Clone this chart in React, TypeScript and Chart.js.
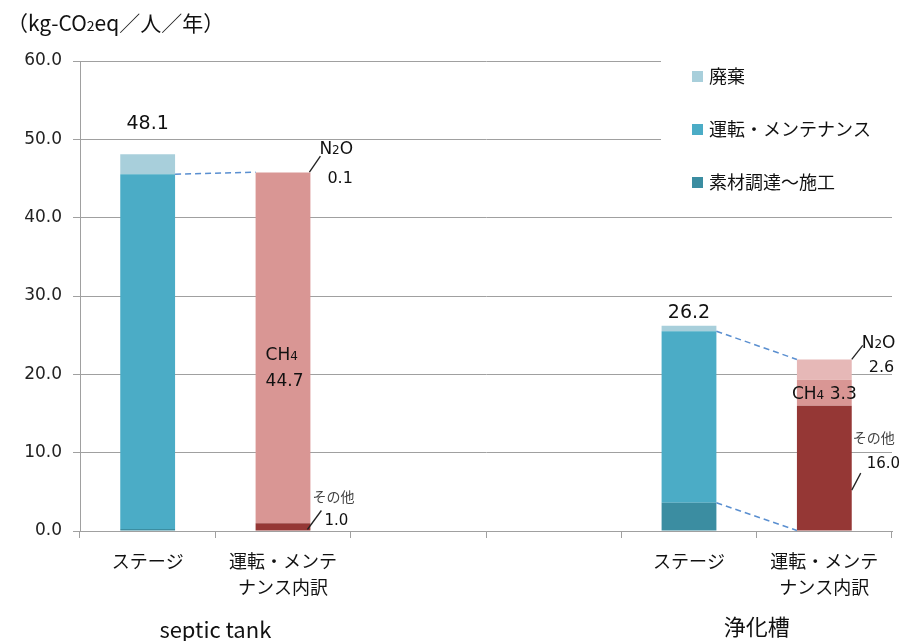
import React, { useEffect, useRef } from "react";
import { Chart, registerables } from "chart.js";

Chart.register(...registerables);

// ---- data ----
const categories = [["ステージ"], ["運転・メンテ", "ナンス内訳"], [""], [""], ["ステージ"], ["運転・メンテ", "ナンス内訳"]];
const groupLabels = ["septic tank", "浄化槽"];
const groupMembers = [[0, 1], [4, 5]];
const stageIndex = [0, 4];
const breakdownIndex = [1, 5];

const material = [0.25, null, null, null, 3.6, null];
const operation = [45.3, null, null, null, 21.9, null];
const disposal = [2.55, null, null, null, 0.7, null];
const otherGas = [null, 1.0, null, null, null, 16.0];
const ch4 = [null, 44.7, null, null, null, 3.3];
const n2o = [null, 0.1, null, null, null, 2.6];

const legendLabels = ["廃棄", "運転・メンテナンス", "素材調達～施工"];
const yMin = 0;
const yMax = 60;
const yStep = 10;

// ---- styles ----
const C_MATERIAL = "#3B8DA1";
const C_OPERATION = "#4BACC6";
const C_DISPOSAL = "#A8CFDB";
const C_OTHER = "#953735";
const C_CH4 = "#D99694";
const C_N2O = "#E6B8B7";
const GRID = "#A0A0A0";
const JP = '"Noto Sans CJK JP", "Noto Sans", sans-serif';
const NUM = '"DejaVu Sans", sans-serif';

type Part = [string, boolean];

function drawRich(ctx: CanvasRenderingContext2D, x: number, yCenter: number, parts: Part[], size: number, family: string, align: "left" | "center" | "right" = "left", color = "#111") {
  const widths = parts.map(([t, sub]) => {
    ctx.font = `${sub ? Math.round(size * 0.68) : size}px ${family}`;
    return ctx.measureText(t).width;
  });
  const total = widths.reduce((a, b) => a + b, 0);
  let cx = align === "center" ? x - total / 2 : align === "right" ? x - total : x;
  ctx.save();
  ctx.fillStyle = color;
  ctx.textAlign = "left";
  ctx.textBaseline = "alphabetic";
  const base = yCenter + size * 0.36;
  parts.forEach(([t, sub], i) => {
    ctx.font = `${sub ? Math.round(size * 0.68) : size}px ${family}`;
    ctx.fillText(t, cx, base);
    cx += widths[i];
  });
  ctx.restore();
}

function line(ctx: CanvasRenderingContext2D, x1: number, y1: number, x2: number, y2: number, color: string, width: number, dash: number[] = []) {
  ctx.save();
  ctx.strokeStyle = color;
  ctx.lineWidth = width;
  ctx.setLineDash(dash);
  ctx.beginPath();
  ctx.moveTo(x1, y1);
  ctx.lineTo(x2, y2);
  ctx.stroke();
  ctx.restore();
}

const decorations = {
  id: "decorations",
  afterDraw(chart: any) {
    const ctx: CanvasRenderingContext2D = chart.ctx;
    const xs = chart.scales.x;
    const el = (di: number, i: number) => chart.getDatasetMeta(di).data[i] as any;

    // axis title
    drawRich(ctx, 7, 23, [["（kg-CO", false], ["2", true], ["eq／人／年）", false]], 21, JP, "left", "#111");

    // group labels
    const groupY = [630, 627];
    groupLabels.forEach((g, k) => {
      const [a, b] = groupMembers[k];
      const cx = (xs.getPixelForValue(a) + xs.getPixelForValue(b)) / 2;
      ctx.save();
      ctx.font = `22px ${JP}`;
      ctx.fillStyle = "#111";
      ctx.textAlign = "center";
      ctx.textBaseline = "middle";
      ctx.fillText(g, cx, groupY[k]);
      ctx.restore();
    });

    // dashed connectors
    const blue = "#5A8FD0";
    const s0 = el(1, stageIndex[0]);
    const b0 = el(5, breakdownIndex[0]);
    line(ctx, s0.x + s0.width / 2, s0.y, b0.x - b0.width / 2, b0.y, blue, 1.5, [6, 4]);
    const s1 = el(1, stageIndex[1]);
    const b1 = el(5, breakdownIndex[1]);
    line(ctx, s1.x + s1.width / 2, s1.y, b1.x - b1.width / 2, b1.y, blue, 1.5, [6, 4]);
    const m1 = el(0, stageIndex[1]);
    const o1 = el(3, breakdownIndex[1]);
    line(ctx, m1.x + m1.width / 2, m1.y, o1.x - o1.width / 2, o1.base, blue, 1.5, [6, 4]);

    // totals above stage bars
    const totalOffsets = [30, 13];
    stageIndex.forEach((i, k) => {
      const total = (material[i] as number) + (operation[i] as number) + (disposal[i] as number);
      const top = el(2, i).y;
      ctx.save();
      ctx.font = `19px ${NUM}`;
      ctx.fillStyle = "#111";
      ctx.textAlign = "center";
      ctx.textBaseline = "middle";
      ctx.fillText(total.toFixed(1), el(2, i).x, top - totalOffsets[k]);
      ctx.restore();
    });

    // breakdown annotations: septic tank
    {
      const i = breakdownIndex[0];
      const nE = el(5, i), cE = el(4, i), oE = el(3, i);
      const right = nE.x + nE.width / 2;
      const left = nE.x - nE.width / 2;
      line(ctx, right - 1, nE.y, right + 10, nE.y - 16, "#222", 1.3);
      drawRich(ctx, right + 9, nE.y - 24, [["N", false], ["2", true], ["O", false]], 17, NUM);
      drawRich(ctx, right + 17, nE.y + 5, [[(n2o[i] as number).toFixed(1), false]], 16, NUM);
      const mid = (cE.y + cE.base) / 2;
      drawRich(ctx, left + 10, mid + 6, [["CH", false], ["4", true]], 17, NUM);
      drawRich(ctx, left + 10, mid + 32, [[(ch4[i] as number).toFixed(1), false]], 17, NUM);
      line(ctx, right - 3, oE.base - 1, right + 11, oE.base - 20, "#222", 1.3);
      drawRich(ctx, right + 2, oE.base - 34, [["その他", false]], 14, JP, "left", "#444");
      drawRich(ctx, right + 14, oE.base - 11, [[(otherGas[i] as number).toFixed(1), false]], 15, NUM);
    }
    // breakdown annotations: 浄化槽
    {
      const i = breakdownIndex[1];
      const nE = el(5, i), cE = el(4, i), oE = el(3, i);
      const right = nE.x + nE.width / 2;
      line(ctx, right, nE.y, right + 11, nE.y - 14, "#222", 1.3);
      drawRich(ctx, right + 10, nE.y - 18, [["N", false], ["2", true], ["O", false]], 17, NUM);
      drawRich(ctx, right + 17, nE.y + 7, [[(n2o[i] as number).toFixed(1), false]], 16, NUM);
      const mid = (cE.y + cE.base) / 2;
      drawRich(ctx, nE.x, mid, [["CH", false], ["4", true], [" " + (ch4[i] as number).toFixed(1), false]], 17, NUM, "center");
      const omid = (oE.y + oE.base) / 2;
      line(ctx, right, omid + 22, right + 9, omid + 5, "#222", 1.3);
      drawRich(ctx, right + 1, omid - 30, [["その他", false]], 14, JP, "left", "#444");
      drawRich(ctx, right + 15, omid - 5, [[(otherGas[i] as number).toFixed(1), false]], 15, NUM);
    }

    // legend
    ctx.save();
    ctx.fillStyle = "#fff";
    ctx.fillRect(661, 50, 235, 155);
    const legendColors = [C_DISPOSAL, C_OPERATION, C_MATERIAL];
    const ly = [76, 129, 182];
    legendLabels.forEach((t, k) => {
      ctx.fillStyle = legendColors[k];
      ctx.fillRect(692, ly[k] - 5, 11, 11);
      ctx.fillStyle = "#111";
      ctx.font = `18px ${JP}`;
      ctx.textAlign = "left";
      ctx.textBaseline = "middle";
      ctx.fillText(t, 709, ly[k]);
    });
    ctx.restore();
  },
};

export default function App() {
  const ref = useRef<HTMLCanvasElement | null>(null);
  useEffect(() => {
    if (!ref.current) return;
    const ds = (label: string, data: (number | null)[], color: string) => ({
      label,
      data,
      backgroundColor: color,
      borderWidth: 0,
      barPercentage: 0.405,
      categoryPercentage: 1,
    });
    const chart = new Chart(ref.current, {
      type: "bar",
      data: {
        labels: categories,
        datasets: [
          ds("素材調達～施工", material, C_MATERIAL),
          ds("運転・メンテナンス", operation, C_OPERATION),
          ds("廃棄", disposal, C_DISPOSAL),
          ds("その他", otherGas, C_OTHER),
          ds("CH4", ch4, C_CH4),
          ds("N2O", n2o, C_N2O),
        ],
      },
      options: {
        responsive: false,
        animation: false,
        events: [],
        layout: { padding: { left: 0, right: 16, top: 61, bottom: 0 } },
        plugins: { legend: { display: false }, tooltip: { enabled: false }, title: { display: false } },
        scales: {
          x: {
            stacked: true,
            grid: { drawOnChartArea: false, drawTicks: true, tickLength: 7, color: GRID, offset: true },
            border: { color: GRID, width: 1 },
            ticks: {
              autoSkip: false,
              maxRotation: 0,
              minRotation: 0,
              padding: 10,
              color: "#111",
              font: { size: 18, family: JP, lineHeight: 1.45 },
            },
            afterFit: (s: any) => {
              s.height = 110;
            },
          },
          y: {
            stacked: true,
            min: yMin,
            max: yMax,
            grid: { color: GRID, drawTicks: true, tickLength: 7 },
            border: { color: GRID, width: 1 },
            ticks: {
              stepSize: yStep,
              padding: 11,
              color: "#222",
              font: { size: 17, family: NUM },
              callback: (v: any) => Number(v).toFixed(1),
            },
            afterFit: (s: any) => {
              s.width = 80;
            },
          },
        },
      },
      plugins: [decorations],
    });
    return () => chart.destroy();
  }, []);
  return (
    <div style={{ position: "fixed", left: 0, top: 0, width: 908, height: 641, background: "#fff" }}>
      <canvas ref={ref} width={908} height={641} style={{ display: "block" }} />
    </div>
  );
}
